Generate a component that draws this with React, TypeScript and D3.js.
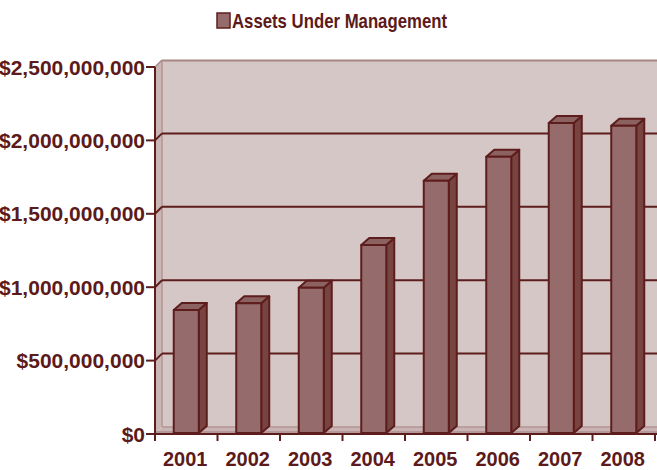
import React from "react";
import * as d3 from "d3";

const years = ["2001", "2002", "2003", "2004", "2005", "2006", "2007", "2008"];
const assets = [845e6, 890e6, 997e6, 1287e6, 1725e6, 1889e6, 2119e6, 2100e6];
const yTicks = [0, 500e6, 1000e6, 1500e6, 2000e6, 2500e6];
const legendLabel = "Assets Under Management";

const W = 657;
const H = 470;
const DX = 7;
const DY = 7;
const BDX = 8;
const BDY = 7;
const ink = "#5e1d1d";
const font = "'Liberation Sans', Arial, sans-serif";

export default function App() {
  const x = d3.scaleBand<string>().domain(years).range([155, 655]);
  const y = d3.scaleLinear().domain([0, 2.5e9]).range([434, 67]);
  const fmt = (v: number) => "$" + d3.format(",")(v);
  const x0 = 155;
  const yBase = y(0);
  const yTop = y(2.5e9);
  const right = 680;
  const barW = 25;

  return (
    <svg width={W} height={H} style={{ position: "absolute", left: 0, top: 0, background: "#fff" }}>
      {/* back wall */}
      <rect x={x0 + DX} y={yTop - DY} width={right - x0 - DX} height={yBase - yTop} fill="#d6c7c7" />
      <line x1={x0 + DX} x2={right} y1={yTop - DY + 0.5} y2={yTop - DY + 0.5} stroke="#a88585" strokeWidth={2} />
      {/* left side wall */}
      <polygon
        points={`${x0},${yTop} ${x0 + DX},${yTop - DY} ${x0 + DX},${yBase - DY} ${x0},${yBase}`}
        fill="#cbb6b6"
      />
      <line x1={x0 + DX} x2={x0 + DX} y1={yTop - DY} y2={yBase - DY} stroke="#b39494" strokeWidth={1.5} />
      <line x1={x0} x2={x0 + DX} y1={yTop} y2={yTop - DY} stroke="#a88585" strokeWidth={1.5} />
      {/* floor */}
      <polygon
        points={`${x0},${yBase} ${x0 + DX},${yBase - DY} ${right},${yBase - DY} ${right},${yBase}`}
        fill="#c9b3b3"
      />
      <line x1={x0 + DX} x2={right} y1={yBase - DY} y2={yBase - DY} stroke="#b39494" strokeWidth={1.5} />
      <rect x={x0} y={yBase - 3} width={right - x0} height={3} fill="#b59797" />
      {/* gridlines */}
      {yTicks.slice(1, -1).map((t) => (
        <g key={t}>
          <line x1={x0 + DX} x2={right} y1={y(t) - DY} y2={y(t) - DY} stroke={ink} strokeWidth={2} />
          <line x1={x0} x2={x0 + DX} y1={y(t)} y2={y(t) - DY} stroke={ink} strokeWidth={2} />
        </g>
      ))}
      {/* bars */}
      {years.map((yr, i) => {
        const cx = (x(yr) as number) + x.bandwidth() / 2;
        const l = cx - barW / 2;
        const r = cx + barW / 2;
        const t = y(assets[i]);
        const b = yBase - 1;
        return (
          <g key={yr} stroke={ink} strokeWidth={2} strokeLinejoin="round">
            <polygon points={`${r},${t} ${r + BDX},${t - BDY} ${r + BDX},${b - BDY} ${r},${b}`} fill="#774442" />
            <polygon points={`${l},${t} ${l + BDX},${t - BDY} ${r + BDX},${t - BDY} ${r},${t}`} fill="#8c6261" />
            <rect x={l} y={t} width={barW} height={b - t} fill="#956c6b" />
          </g>
        );
      })}
      {/* axes */}
      <line x1={x0} x2={x0} y1={yTop} y2={yBase} stroke={ink} strokeWidth={2} />
      <line x1={x0 - 1} x2={W} y1={yBase} y2={yBase} stroke={ink} strokeWidth={2} />
      {yTicks.map((t) => (
        <g key={t}>
          <line x1={x0 - 9} x2={x0} y1={y(t)} y2={y(t)} stroke={ink} strokeWidth={2} />
          <text
            x={145}
            y={y(t) + 7.5}
            textAnchor="end"
            fontFamily={font}
            fontWeight="bold"
            fontSize={21}
            fill="#5c1a1a"
          >
            {fmt(t)}
          </text>
        </g>
      ))}
      {years.map((yr) => (
        <line
          key={yr}
          x1={(x(yr) as number) + x.bandwidth()}
          x2={(x(yr) as number) + x.bandwidth()}
          y1={yBase}
          y2={yBase + 7}
          stroke={ink}
          strokeWidth={2}
        />
      ))}
      <line x1={x0} x2={x0} y1={yBase} y2={yBase + 7} stroke={ink} strokeWidth={2} />
      {years.map((yr) => (
        <text
          key={yr}
          x={(x(yr) as number) + x.bandwidth() / 2 - 1}
          y={466}
          textAnchor="middle"
          fontFamily={font}
          fontWeight="bold"
          fontSize={20}
          fill="#5c1a1a"
        >
          {yr}
        </text>
      ))}
      {/* legend */}
      <rect x={217} y={13} width={13} height={15} fill="#956c6b" stroke={ink} strokeWidth={1.5} />
      <text
        x={232}
        y={28}
        fontFamily={font}
        fontWeight="bold"
        fontSize={21}
        textLength={215}
        lengthAdjust="spacingAndGlyphs"
        fill="#5c1a1a"
      >
        {legendLabel}
      </text>
    </svg>
  );
}
